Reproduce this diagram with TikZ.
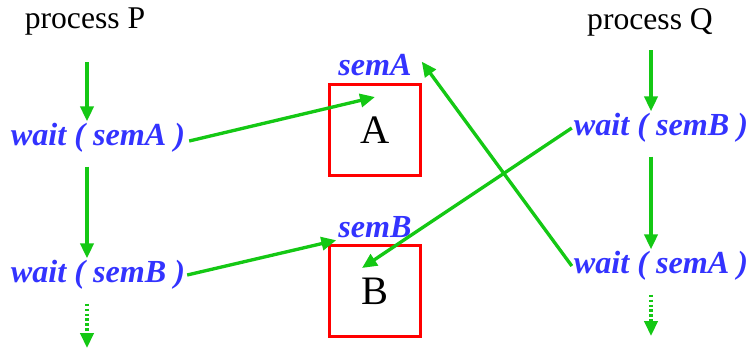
\documentclass[tikz,border=0pt]{standalone}
\usepackage{fontspec}
\setmainfont{Liberation Serif}
\usetikzlibrary{arrows.meta, positioning, calc}

\definecolor{flowgreen}{RGB}{20,200,20}
\definecolor{semblue}{RGB}{51,51,255}

\begin{document}
\begin{tikzpicture}[x=0.02cm, y=-0.02cm, >={Triangle[length=8.5pt,width=7.5pt]},
    proc/.style={font=\fontsize{18}{20}\selectfont, text=black, inner sep=0pt},
    waitcall/.style={font=\fontsize{18.3}{20}\selectfont\bfseries\itshape, text=semblue, inner sep=1pt},
    semlabel/.style={font=\fontsize{18.3}{20}\selectfont\bfseries\itshape, text=semblue, inner sep=1pt},
    sembox/.style={draw=red, line width=1.8pt, minimum size=52pt, inner sep=0pt,
        font=\fontsize{23}{25}\selectfont},
    flow/.style={->, flowgreen, line width=1.9pt},
    flowdots/.style={->, flowgreen, line width=1.9pt, dash pattern=on 1.4pt off 1.4pt}]

\useasboundingbox (0,0) rectangle (749,349);

% Process P
\node[proc] (procP) at (85, 22) {process P};
\node[waitcall] (pWaitA) at (98, 138) {wait ( semA )};
\node[waitcall] (pWaitB) at (98, 275) {wait ( semB )};
\coordinate (pTop) at (87, 62);
\coordinate (pEnd) at (87, 348);

% Process Q
\node[proc] (procQ) at (650, 22) {process Q};
\node[waitcall] (qWaitB) at (661, 128) {wait ( semB )};
\node[waitcall] (qWaitA) at (661, 266) {wait ( semA )};
\coordinate (qTop) at (651, 50);
\coordinate (qEnd) at (651, 336);

% Semaphores
\node[sembox] (boxA) at (375, 130) {A};
\node[semlabel, above=3pt of boxA] (semA) {semA};
\node[sembox] (boxB) at (375, 291) {B};
\node[semlabel, above=2pt of boxB] (semB) {semB};
\coordinate (inA) at (375, 97);
\coordinate (inB) at (362, 268);

% Flow of P
\draw[flow] (pTop) -- (pWaitA.north -| pTop);
\draw[flow] (pWaitA.south -| pTop) ++(0,12) -- (pWaitB.north -| pTop);
\draw[flowdots] (pWaitB.south -| pTop) ++(0,12) -- (pEnd);

% Flow of Q
\draw[flow] (qTop) -- (qWaitB.north -| qTop);
\draw[flow] (qWaitB.south -| qTop) ++(0,12) -- (qWaitA.north -| qTop);
\draw[flowdots] (qWaitA.south -| qTop) ++(0,12) -- (qEnd);

% Requests
\draw[flow] (pWaitA.east) ++(2,3) -- (inA);
\draw[flow] (pWaitB.east) -- (semB.south west);
\draw[flow] (qWaitB.west) -- (inB);
\draw[flow] (qWaitA.west) -- ($(semA.east)+(8,-3)$);

\end{tikzpicture}
\end{document}
